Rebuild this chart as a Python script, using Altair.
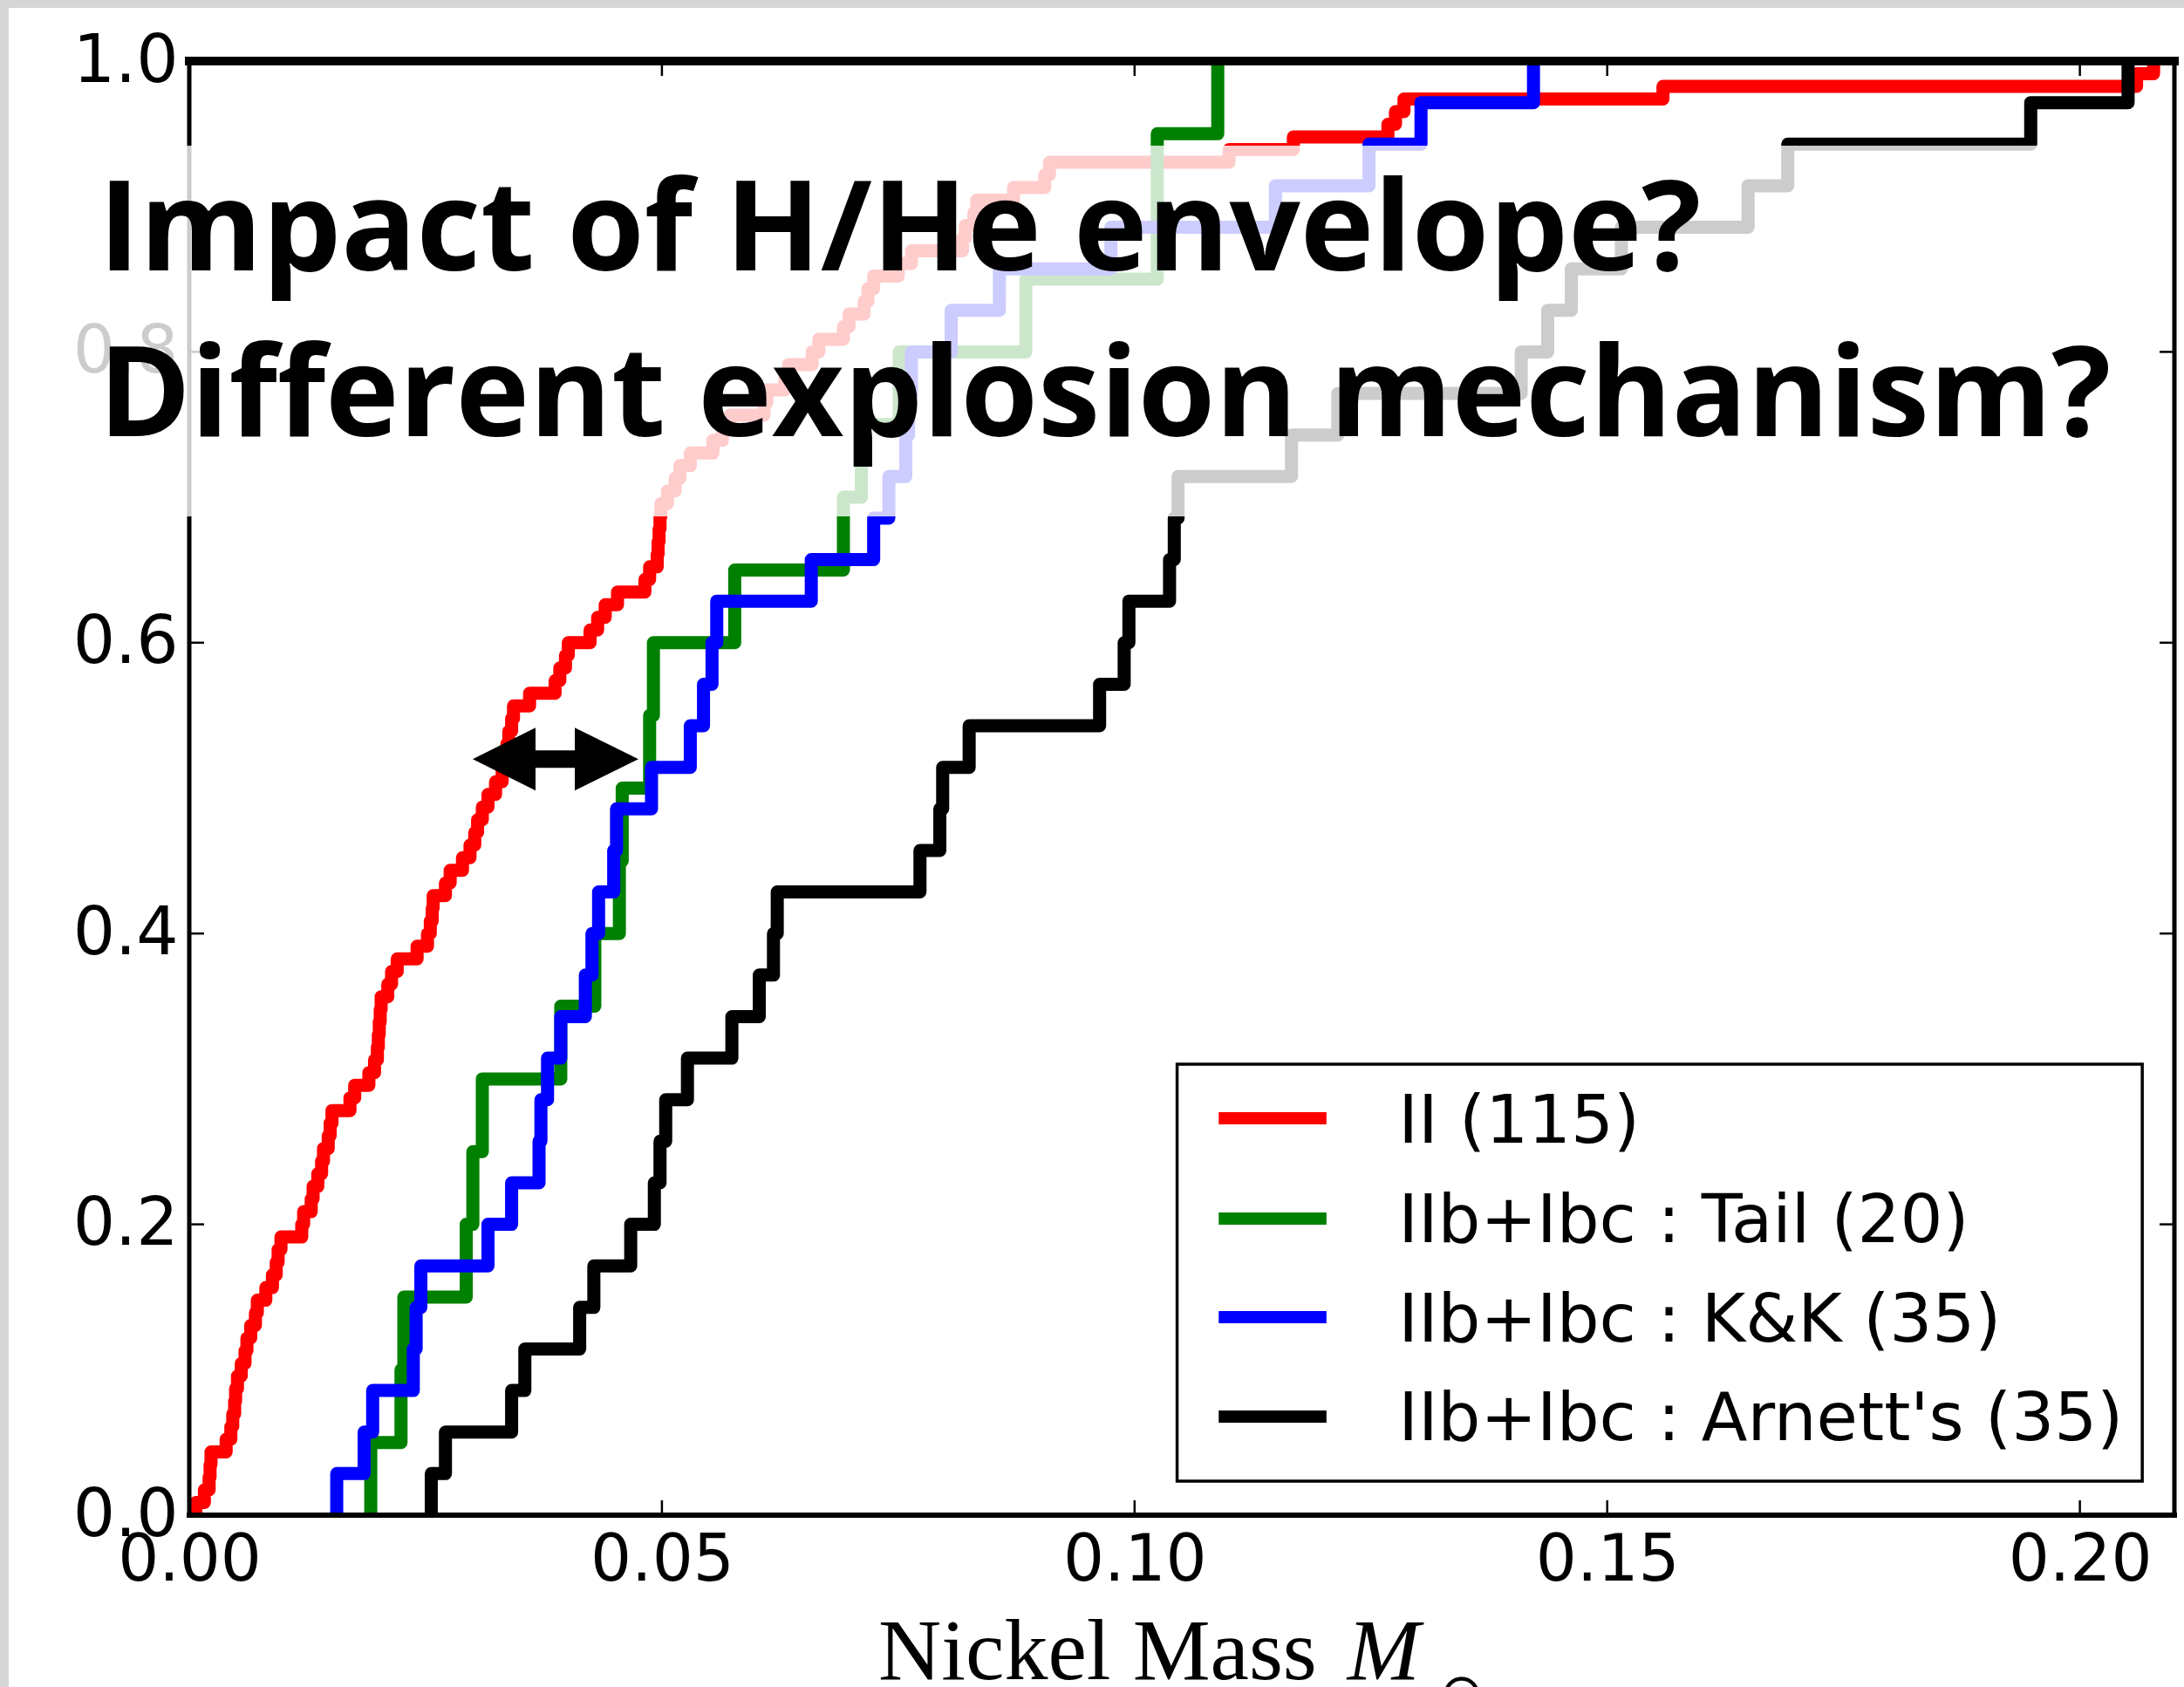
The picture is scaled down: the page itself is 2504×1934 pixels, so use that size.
import altair as alt
import pandas as pd

# ---------------- data ----------------
series_names = ["II (115)", "IIb+Ibc : Tail (20)", "IIb+Ibc : K&K (35)", "IIb+Ibc : Arnett's (35)"]
series_colors = ["#ff0000", "#008000", "#0000ff", "#000000"]

# sorted nickel masses of each sample (each is one step of the CDF)
ii_x = [0.0007, 0.0016, 0.0021, 0.0022, 0.0023, 0.0039, 0.0044, 0.0046, 0.0048, 0.0049,
        0.0051, 0.0055, 0.0059, 0.0061, 0.0065, 0.0070, 0.0072, 0.0081, 0.0088, 0.0092,
        0.0094, 0.0097, 0.0119, 0.0121, 0.0129, 0.0131, 0.0136, 0.0140, 0.0142, 0.0147,
        0.0149, 0.0151, 0.0170, 0.0175, 0.0190, 0.0196, 0.0199, 0.0200, 0.0201, 0.0202,
        0.0203, 0.0210, 0.0214, 0.0220, 0.0241, 0.0252, 0.0255, 0.0257, 0.0258, 0.0271,
        0.0276, 0.0289, 0.0297, 0.0302, 0.0305, 0.0310, 0.0316, 0.0324, 0.0331, 0.0335,
        0.0336, 0.0338, 0.0341, 0.0343, 0.0360, 0.0387, 0.0392, 0.0398, 0.0401, 0.0424,
        0.0432, 0.0440, 0.0453, 0.0482, 0.0487, 0.0495, 0.0496, 0.0497, 0.0498, 0.0499,
        0.0506, 0.0514, 0.0519, 0.0530, 0.0554, 0.0564, 0.0572, 0.0608, 0.0611, 0.0630,
        0.0634, 0.0659, 0.0666, 0.0692, 0.0698, 0.0714, 0.0718, 0.0724, 0.0750, 0.0764,
        0.0818, 0.0821, 0.0830, 0.0833, 0.0872, 0.0905, 0.0910, 0.1100, 0.1168, 0.1268,
        0.1276, 0.1285, 0.1559, 0.2060, 0.2078]
tail_x = [0.0192, 0.0224, 0.0227, 0.0293, 0.0300, 0.0310, 0.0393, 0.0429, 0.0455, 0.0458,
          0.0487, 0.0491, 0.0577, 0.0692, 0.0711, 0.0751, 0.0885, 0.1024, 0.1024, 0.1088]
kk_x = [0.0156, 0.0185, 0.0194, 0.0237, 0.0240, 0.0245, 0.0316, 0.0341, 0.0370, 0.0372,
        0.0379, 0.0393, 0.0419, 0.0426, 0.0433, 0.0449, 0.0452, 0.0489, 0.0530, 0.0544,
        0.0553, 0.0558, 0.0658, 0.0724, 0.0740, 0.0758, 0.0761, 0.0764, 0.0806, 0.0857,
        0.0975, 0.1149, 0.1248, 0.1303, 0.1422]
arnett_x = [0.0256, 0.0271, 0.0341, 0.0355, 0.0413, 0.0428, 0.0467, 0.0492, 0.0498, 0.0504,
            0.0527, 0.0574, 0.0603, 0.0618, 0.0622, 0.0773, 0.0794, 0.0797, 0.0825, 0.0963,
            0.0989, 0.0994, 0.1037, 0.1042, 0.1046, 0.1166, 0.1215, 0.1409, 0.1437, 0.1462,
            0.1515, 0.1649, 0.1691, 0.1948, 0.2051]

x_ticks = [0.0, 0.05, 0.10, 0.15, 0.20]
y_ticks = [0.0, 0.2, 0.4, 0.6, 0.8, 1.0]
x_domain = [0.0, 0.21]
y_domain = [0.0, 1.0]

headline_lines = ["Impact of H/He envelope?", "Different explosion mechanism?"]
headline_x = [-0.0096, -0.0096]
headline_y = [0.856, 0.742]

arrow_x = [0.03875]
arrow_y = [0.520]

overlay_box = {"x": -0.0191, "x2": 0.2060, "y": 0.6869, "y2": 0.9418}
legend_box = {"x": 0.1045, "x2": 0.2066, "y": 0.0234, "y2": 0.3101}
legend_swatch_x = [0.1089, 0.1203]
legend_row_y = [0.2729, 0.2040, 0.1362, 0.0678]
legend_text_x = 0.1279
legend_text_y = [0.2561, 0.1878, 0.1194, 0.0516]

xtitle_parts = ["Nickel Mass", "M", "\u2299"]
xtitle_x = [0.0729, 0.1225, 0.1322]
xtitle_y = [-0.1128, -0.1128, -0.1350]

# ---------------- tables built from the arrays ----------------
rows = []
for name, xs in zip(series_names, [ii_x, tail_x, kk_x, arnett_x]):
    n = len(xs)
    rows.append({"series": name, "x": xs[0], "y": 0.0, "idx": 0})
    for i, xv in enumerate(xs, start=1):
        rows.append({"series": name, "x": xv, "y": i / n, "idx": i})
steps = pd.DataFrame(rows)

tick_len_x = 0.00157
tick_len_y = 0.0102
tick_rows = []
for t in x_ticks[1:]:
    tick_rows.append({"x": t, "x2": t, "y": y_domain[0], "y2": y_domain[0] + tick_len_y})
    tick_rows.append({"x": t, "x2": t, "y": y_domain[1], "y2": y_domain[1] - tick_len_y})
for t in y_ticks[1:-1]:
    tick_rows.append({"x": x_domain[0], "x2": x_domain[0] + tick_len_x, "y": t, "y2": t})
    tick_rows.append({"x": x_domain[1], "x2": x_domain[1] - tick_len_x, "y": t, "y2": t})
ticks_df = pd.DataFrame(tick_rows)

spines_df = pd.DataFrame([
    {"x": x_domain[0], "x2": x_domain[0], "y": y_domain[0], "y2": y_domain[1], "w": 5},
    {"x": x_domain[1], "x2": x_domain[1], "y": y_domain[0], "y2": y_domain[1], "w": 5},
    {"x": x_domain[0], "x2": x_domain[1], "y": y_domain[0], "y2": y_domain[0], "w": 6},
    {"x": x_domain[0], "x2": x_domain[1], "y": y_domain[1], "y2": y_domain[1], "w": 10},
])

overlay_df = pd.DataFrame([overlay_box])
headline_df = pd.DataFrame({"x": headline_x, "y": headline_y, "text": headline_lines})
arrow_df = pd.DataFrame({"x": arrow_x, "y": arrow_y})
legend_box_df = pd.DataFrame([legend_box])
legend_sw_df = pd.DataFrame({"series": series_names, "x": legend_swatch_x[0],
                             "x2": legend_swatch_x[1], "y": legend_row_y})
legend_tx_df = pd.DataFrame({"series": series_names, "x": legend_text_x, "y": legend_text_y})
xtitle_df = pd.DataFrame({"x": xtitle_x, "y": xtitle_y, "text": xtitle_parts})
one_df = pd.DataFrame({"a": [0]})

# ---------------- encodings ----------------
xscale = alt.Scale(domain=x_domain, nice=False, zero=False)
yscale = alt.Scale(domain=y_domain, nice=False, zero=False)
xaxis = alt.Axis(title=None, values=x_ticks, format=".2f", domain=False, ticks=False, grid=False,
                 labelFont="DejaVu Sans", labelFontSize=74, labelPadding=16, labelColor="black",
                 labelFlush=False, labelOverlap=False)
yaxis = alt.Axis(title=None, values=y_ticks, format=".1f", domain=False, ticks=False, grid=False,
                 labelFont="DejaVu Sans", labelFontSize=76, labelPadding=13, labelColor="black",
                 labelFlush=False, labelOverlap=False)
X = alt.X("x:Q", scale=xscale, axis=xaxis)
Y = alt.Y("y:Q", scale=yscale, axis=yaxis)
COLOR = alt.Color("series:N", scale=alt.Scale(domain=series_names, range=series_colors), legend=None)

layers = []

# slide frame (light grey strip on the left and top)
layers.append(alt.Chart(one_df).mark_rect(color="#d6d6d6").encode(
    x=alt.value(-217), x2=alt.value(-207), y=alt.value(-70), y2=alt.value(1864)))
layers.append(alt.Chart(one_df).mark_rect(color="#d6d6d6").encode(
    x=alt.value(-217), x2=alt.value(2287), y=alt.value(-70), y2=alt.value(-61)))

# CDF step lines
for name in series_names:
    layers.append(
        alt.Chart(steps).transform_filter(alt.datum.series == name)
        .mark_line(interpolate="step-after", strokeWidth=15, strokeJoin="round",
                   strokeCap="butt", clip=True)
        .encode(x=X, y=Y, order=alt.Order("idx:Q"), color=COLOR)
    )

# spines and inward ticks
layers.append(alt.Chart(spines_df).mark_rule(color="black", strokeCap="square").encode(
    x=X, x2="x2:Q", y=Y, y2="y2:Q", strokeWidth=alt.StrokeWidth("w:Q", scale=None)))
layers.append(alt.Chart(ticks_df).mark_rule(color="black", strokeWidth=2.5).encode(
    x=X, x2="x2:Q", y=Y, y2="y2:Q"))

# translucent white box behind the headline
layers.append(alt.Chart(overlay_df).mark_rect(color="white", opacity=0.8).encode(
    x=X, x2="x2:Q", y=Y, y2="y2:Q"))

# headline text
layers.append(alt.Chart(headline_df).mark_text(
    align="left", baseline="alphabetic", font="Open Sans", fontWeight="bold",
    fontSize=143, color="black").encode(x=X, y=Y, text="text:N"))

# double-headed arrow
arrow_path = ("M-1,0L-0.242,-0.379L-0.242,-0.105L0.232,-0.105L0.232,-0.379L1,0"
              "L0.232,0.379L0.232,0.105L-0.242,0.105L-0.242,0.379Z")
layers.append(alt.Chart(arrow_df).mark_point(
    shape=arrow_path, size=36100, filled=True, color="black", opacity=1, strokeWidth=0
).encode(x=X, y=Y))

# legend
layers.append(alt.Chart(legend_box_df).mark_rect(fill="white", stroke="black", strokeWidth=3.5).encode(
    x=X, x2="x2:Q", y=Y, y2="y2:Q"))
layers.append(alt.Chart(legend_sw_df).mark_rule(strokeWidth=14, strokeCap="butt").encode(
    x=X, x2="x2:Q", y=Y, color=COLOR))
layers.append(alt.Chart(legend_tx_df).mark_text(
    align="left", baseline="alphabetic", font="DejaVu Sans", fontSize=77, color="black"
).encode(x=X, y=Y, text="series:N"))

# x-axis title: Nickel Mass M_sun
layers.append(alt.Chart(xtitle_df.iloc[[0]]).mark_text(
    align="left", baseline="alphabetic", font="Liberation Serif", fontSize=100, color="black"
).encode(x=X, y=Y, text="text:N"))
layers.append(alt.Chart(xtitle_df.iloc[[1]]).mark_text(
    align="left", baseline="alphabetic", font="Liberation Serif", fontStyle="italic",
    fontSize=100, color="black").encode(x=X, y=Y, text="text:N"))
layers.append(alt.Chart(xtitle_df.iloc[[2]]).mark_text(
    align="left", baseline="alphabetic", font="DejaVu Sans", fontSize=62, color="black"
).encode(x=X, y=Y, text="text:N"))

chart = alt.layer(*layers).properties(
    width=2276, height=1667,
    autosize=alt.AutoSizeParams(type="none"),
    padding={"left": 217, "top": 70, "right": 11, "bottom": 197},
    background="white",
).configure_view(stroke=None)

chart.save("out.html", embed_options={"renderer": "svg", "actions": False})
